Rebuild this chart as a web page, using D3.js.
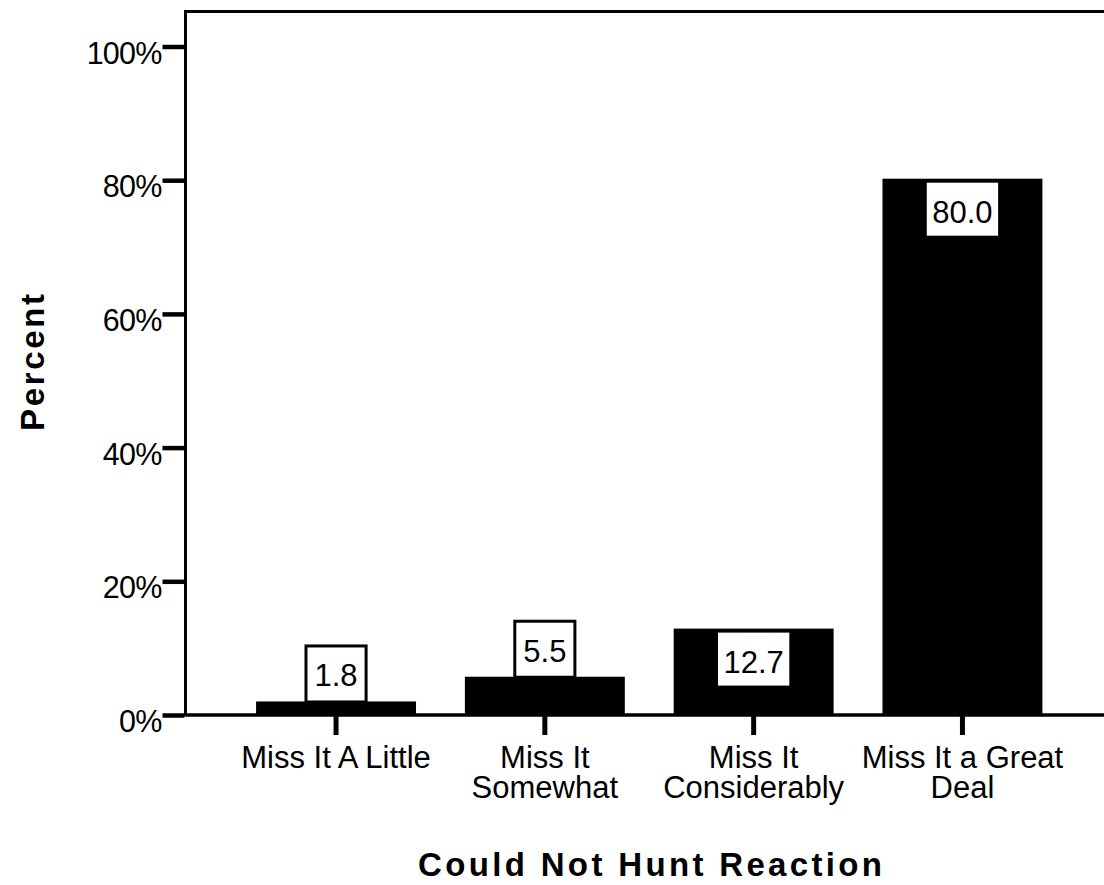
<!DOCTYPE html>
<html><head><meta charset="utf-8">
<script src="https://cdn.jsdelivr.net/npm/d3@7"></script>
<style>
html,body{margin:0;padding:0;background:#fff;}
svg{display:block;}
text{font-family:"Liberation Sans",Arial,sans-serif;fill:#000;}
</style></head>
<body>
<svg id="chart" width="1104" height="885"></svg>
<script>
const categories = ["Miss It A Little", "Miss It Somewhat", "Miss It Considerably", "Miss It a Great Deal"];
const categoryLines = [["Miss It A Little"], ["Miss It", "Somewhat"], ["Miss It", "Considerably"], ["Miss It a Great", "Deal"]];
const percents = [1.8, 5.5, 12.7, 80.0];
const valueLabels = ["1.8", "5.5", "12.7", "80.0"];
const yTicks = [0, 20, 40, 60, 80, 100];
const xTitle = "Could Not Hunt Reaction";
const yTitle = "Percent";

(function() {
const svg = d3.select("#chart");
const mLeft = 185.5, mTop = 11.5, mRight = 1113, mBottom = 715;

const step = 208.8;
const x = d3.scaleBand().domain(categories)
  .range([mLeft, mLeft + step * (4 - 0.234 + 2 * 0.338)])
  .paddingInner(0.234).paddingOuter(0.338);
const y = d3.scaleLinear().domain([0, 100]).range([mBottom, 46.5]);

// frame
svg.append("rect").attr("x", mLeft).attr("y", mTop)
  .attr("width", mRight - mLeft).attr("height", mBottom - mTop)
  .attr("fill", "none").attr("stroke", "#000").attr("stroke-width", 3);

// bars
const data = categories.map((c, i) => ({c, v: percents[i], label: valueLabels[i], lines: categoryLines[i]}));
svg.append("g").selectAll("rect").data(data).join("rect")
  .attr("x", d => x(d.c)).attr("width", x.bandwidth())
  .attr("y", d => y(d.v) - 1.5).attr("height", d => y(0) - y(d.v) + 1.5)
  .attr("fill", "#000");

// baseline
svg.append("line").attr("x1", mLeft).attr("x2", mRight).attr("y1", mBottom).attr("y2", mBottom)
  .attr("stroke", "#000").attr("stroke-width", 3);

// y axis
const yAxis = svg.append("g").attr("transform", `translate(${mLeft - 1},0)`)
  .call(d3.axisLeft(y).tickValues(yTicks).tickFormat(d => d + "%").tickSize(22).tickPadding(1));
yAxis.select(".domain").remove();
yAxis.selectAll(".tick line").attr("stroke", "#000").attr("stroke-width", 4.5);
yAxis.selectAll(".tick text").attr("font-size", 30.5).attr("font-family", "Liberation Sans, Arial, sans-serif")
  .attr("fill", "#000").attr("dy", null).attr("y", 16.5).attr("letter-spacing", -0.8);

// x axis
const xAxis = svg.append("g").attr("transform", `translate(0,${mBottom})`)
  .call(d3.axisBottom(x).tickSize(20).tickFormat(""));
xAxis.select(".domain").remove();
xAxis.selectAll(".tick line").attr("stroke", "#000").attr("stroke-width", 5);
xAxis.selectAll(".tick").each(function(d, i) {
  const t = d3.select(this).append("text").attr("text-anchor", "middle")
    .attr("font-size", 31).attr("fill", "#000")
    .attr("font-family", "Liberation Sans, Arial, sans-serif");
  categoryLines[i].forEach((ln, k) => {
    t.append("tspan").attr("x", 0).attr("y", 53 + k * 30).text(ln);
  });
});

// value labels
const lg = svg.append("g");
data.forEach(d => {
  const cx = x(d.c) + x.bandwidth() / 2;
  const g = lg.append("g");
  const t = g.append("text").attr("text-anchor", "middle").attr("font-size", 31)
    .attr("x", cx).text(d.label);
  const w = t.node().getBBox().width;
  const barTop = y(d.v) - 1.5;
  const barH = y(0) - barTop;
  const h = 54;
  let bw, by;
  if (barH > h + 10) {
    bw = w + 11; by = barTop + 4;
    g.insert("rect", "text").attr("x", cx - bw / 2).attr("y", by).attr("width", bw).attr("height", 53)
      .attr("fill", "#fff");
    t.attr("y", by + 40);
  } else {
    bw = w + 20; by = barTop - 57;
    g.insert("rect", "text").attr("x", cx - bw / 2 + 1.5).attr("y", by + 1.5).attr("width", bw - 3).attr("height", 56)
      .attr("fill", "#fff").attr("stroke", "#000").attr("stroke-width", 3);
    t.attr("y", by + 42);
  }
});

// axis titles
svg.append("text").attr("x", 418).attr("y", 876).attr("text-anchor", "start")
  .attr("font-size", 33).attr("font-weight", "bold")
  .attr("textLength", 464).attr("lengthAdjust", "spacing").text(xTitle);
svg.append("text").attr("transform", "translate(44,431) rotate(-90)").attr("text-anchor", "start")
  .attr("font-size", 33).attr("font-weight", "bold")
  .attr("textLength", 137).attr("lengthAdjust", "spacing").text(yTitle);
})();
</script>
</body></html>
